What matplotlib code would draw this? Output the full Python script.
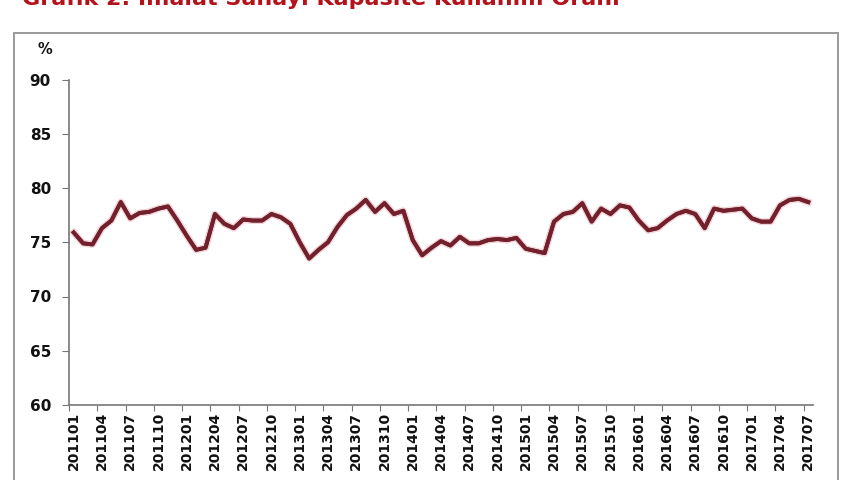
import numpy as np
import matplotlib.pyplot as plt
import matplotlib.patheffects as pe
from matplotlib.patches import Rectangle

# monthly capacity utilisation, 2011-01 .. 2017-07
years = [2011, 2012, 2013, 2014, 2015, 2016, 2017]
values = [75.9, 74.9, 74.8, 76.3, 77.0, 78.7, 77.2, 77.7, 77.8, 78.1, 78.3, 77.0,
          75.6, 74.3, 74.5, 77.6, 76.7, 76.3, 77.1, 77.0, 77.0, 77.6, 77.3, 76.7,
          75.0, 73.5, 74.3, 75.0, 76.4, 77.5, 78.1, 78.9, 77.8, 78.6, 77.6, 77.9,
          75.2, 73.8, 74.5, 75.1, 74.7, 75.5, 74.9, 74.9, 75.2, 75.3, 75.2, 75.4,
          74.4, 74.2, 74.0, 76.9, 77.6, 77.8, 78.6, 76.9, 78.1, 77.6, 78.4, 78.2,
          77.0, 76.1, 76.3, 77.0, 77.6, 77.9, 77.6, 76.3, 78.1, 77.9, 78.0, 78.1,
          77.2, 76.9, 76.9, 78.4, 78.9, 79.0, 78.7]
periods = [f"{y}{m:02d}" for y in years for m in range(1, 13)][:len(values)]

title = "Grafik 2: İmalat Sanayi Kapasite Kullanım Oranı"

fig = plt.figure(figsize=(8.6, 4.8), dpi=100)
fig.patch.set_facecolor('white')

# outer chart frame
fig.patches.append(Rectangle((14 / 860, -0.05), (838 - 14) / 860, 1 - 33 / 480 + 0.05,
                             transform=fig.transFigure, fill=False,
                             edgecolor='#9a9a9a', linewidth=1.4))

# title, cut by the top edge as in the source
fig.text(22 / 860, 1 - 5 / 480, title, color='#b3121b', fontsize=16,
         fontweight='bold', va='baseline', ha='left')

ax = fig.add_axes([69 / 860, 1 - 405 / 480, (813 - 69) / 860, (405 - 79.5) / 480])
x = np.arange(len(values))
ax.plot(x, values, color='#72202c', linewidth=2.8, solid_joinstyle='round',
        path_effects=[pe.withStroke(linewidth=5, foreground='#f0d3d6'), pe.Normal()])

ax.set_xlim(-0.5, len(values) - 0.5)
ax.set_ylim(60, 90)
ax.set_yticks(np.arange(60, 91, 5))
ax.set_xticks(np.arange(-0.5, len(values), 3))
ax.set_xticklabels([])
ax.set_xticks(x[::3], minor=True)
ax.set_xticklabels(periods[::3], minor=True, rotation=90)

for s in ['top', 'right']:
    ax.spines[s].set_visible(False)
for s in ['left', 'bottom']:
    ax.spines[s].set_color('#777777')
    ax.spines[s].set_linewidth(1.2)

ax.tick_params(axis='y', which='major', direction='out', length=5, color='#777777',
               labelsize=11, pad=8)
ax.tick_params(axis='x', which='major', direction='out', length=4, color='#777777')
ax.tick_params(axis='x', which='minor', length=0, labelsize=10, pad=5)
for lbl in ax.get_yticklabels() + ax.get_xticklabels(minor=True):
    lbl.set_fontweight('bold')
    lbl.set_color('#111111')

fig.text(38 / 860, 1 - 50 / 480, '%', fontsize=10.5, fontweight='bold',
         va='center', ha='left', color='#111111')

fig.savefig('out.png', dpi=100)
